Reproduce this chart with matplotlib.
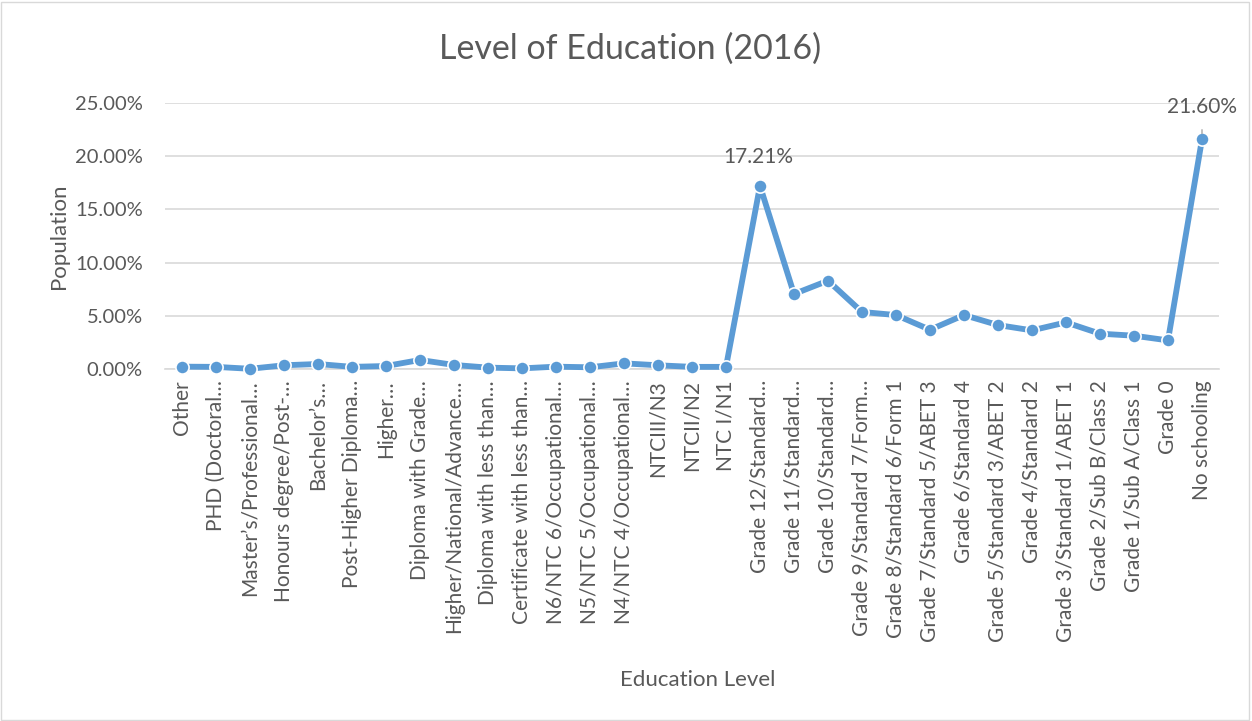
import matplotlib.pyplot as plt
from matplotlib.patches import Rectangle
from matplotlib.ticker import FuncFormatter

plt.rcParams['font.family'] = ['Lato', 'DejaVu Sans']

levels = [
    'Other', 'PHD (Doctoral…', 'Master’s/Professional…', 'Honours degree/Post-…',
    'Bachelor’s…', 'Post-Higher Diploma…', 'Higher…', 'Diploma with Grade…',
    'Higher/National/Advance…', 'Diploma with less than…', 'Certificate with less than…',
    'N6/NTC 6/Occupational…', 'N5/NTC 5/Occupational…', 'N4/NTC 4/Occupational…',
    'NTCIII/N3', 'NTCII/N2', 'NTC I/N1', 'Grade 12/Standard…', 'Grade 11/Standard…',
    'Grade 10/Standard…', 'Grade 9/Standard 7/Form…', 'Grade 8/Standard 6/Form 1',
    'Grade 7/Standard 5/ABET 3', 'Grade 6/Standard 4', 'Grade 5/Standard 3/ABET 2',
    'Grade 4/Standard 2', 'Grade 3/Standard 1/ABET 1', 'Grade 2/Sub B/Class 2',
    'Grade 1/Sub A/Class 1', 'Grade 0', 'No schooling',
]
population = [
    0.22, 0.20, 0.02, 0.35, 0.47, 0.20, 0.28, 0.85, 0.38, 0.13, 0.06,
    0.22, 0.16, 0.53, 0.35, 0.20, 0.20, 17.21, 7.05, 8.30, 5.36, 5.07,
    3.69, 5.07, 4.13, 3.63, 4.38, 3.32, 3.13, 2.69, 21.60,
]
labelled = {'Grade 12/Standard…': 17.21, 'No schooling': 21.60}

grey = '#595959'
blue = '#5B9BD5'

fig = plt.figure(figsize=(12.52, 7.21), dpi=100)
fig.patches.append(Rectangle((0.001, 0.002), 0.997, 0.995, transform=fig.transFigure,
                             fill=False, edgecolor='#D9D9D9', linewidth=1))
ax = fig.add_axes([165 / 1252, 1 - 369 / 721, (1219 - 165) / 1252, (369 - 103) / 721])

x = list(range(len(levels)))
ax.plot(x, population, color=blue, linewidth=4.2, marker='o', markersize=9.5,
        markerfacecolor=blue, markeredgecolor='white', markeredgewidth=1.2,
        solid_joinstyle='round', zorder=3, clip_on=False)

ax.set_xlim(-0.5, len(levels) - 0.5)
ax.set_ylim(0, 25)
ax.set_yticks([0, 5, 10, 15, 20, 25])
ax.yaxis.set_major_formatter(FuncFormatter(lambda v, p: f'{v:.2f}%'))
ax.grid(axis='y', color='#D9D9D9', linewidth=1.2)
ax.set_axisbelow(True)
for s in ['top', 'right', 'left']:
    ax.spines[s].set_visible(False)
ax.spines['bottom'].set_color('#D9D9D9')
ax.spines['bottom'].set_linewidth(1.2)

ax.set_xticks(x)
ax.set_xticklabels(levels, rotation=90, fontsize=15, color=grey)
ax.tick_params(axis='x', length=0, pad=8)
ax.tick_params(axis='y', length=0, pad=16, labelsize=14.5, labelcolor=grey)

# data labels on the two peaks
i12 = levels.index('Grade 12/Standard…')
ax.annotate(f'{labelled[levels[i12]]:.2f}%', (i12, population[i12]), xytext=(-1, 21),
            textcoords='offset points', ha='center', va='center', fontsize=15, color=grey)
ins = levels.index('No schooling')
ax.annotate(f'{labelled[levels[ins]]:.2f}%', (ins, population[ins]), xytext=(0, 23),
            textcoords='offset points', ha='center', va='center', fontsize=15, color=grey,
            annotation_clip=False,
            arrowprops=dict(arrowstyle='-', color='#A6A6A6', lw=1, shrinkA=7, shrinkB=4))

ax.set_ylabel('Population', fontsize=16, color=grey, labelpad=4)
ax.set_xlabel('Education Level', fontsize=16, color=grey)
ax.xaxis.set_label_coords(0.505, -(670 - 369) / (369 - 103))
fig.text(0.503, 1 - 49 / 721, 'Level of Education (2016)', ha='center', va='center',
         fontsize=24.5, color=grey)

fig.savefig('out.png', dpi=100)
